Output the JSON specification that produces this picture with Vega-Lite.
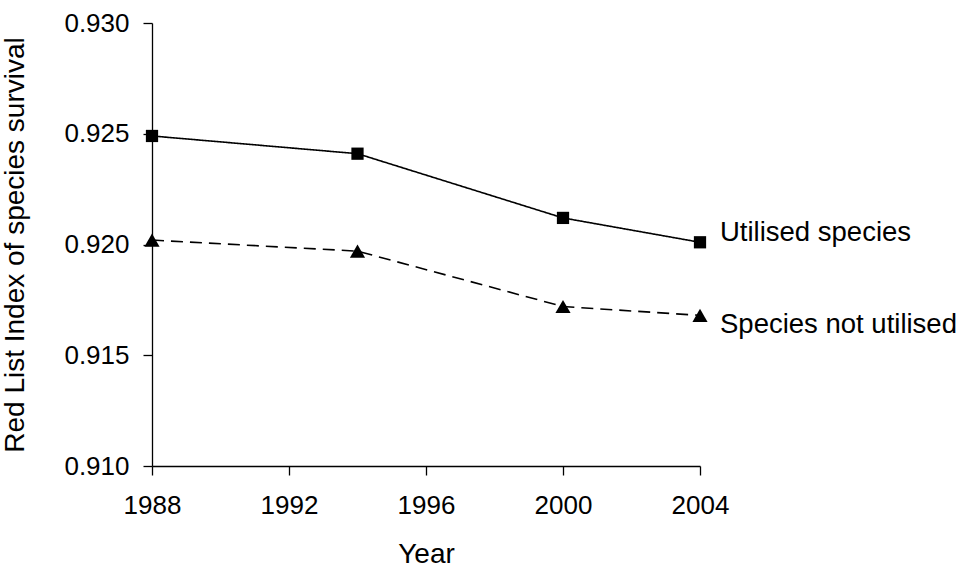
{
  "$schema": "https://vega.github.io/schema/vega-lite/v6.json",
  "autosize": "none",
  "width": 548,
  "height": 443,
  "padding": {"left": 152, "top": 23, "right": 269, "bottom": 104},
  "background": "white",
  "config": {
    "view": {"stroke": null},
    "font": "Liberation Sans",
    "axis": {"grid": false, "domainColor": "black", "tickColor": "black", "labelColor": "black", "titleColor": "black", "labelFont": "Liberation Sans", "titleFont": "Liberation Sans", "labelFontSize": 26, "titleFontSize": 28, "titleFontWeight": "normal", "tickSize": 9, "domainWidth": 1.3, "tickWidth": 1.3}
  },
  "data": {
    "values": [
      {"year": 1988, "rli": 0.9249, "series": "Utilised species"},
      {"year": 1994, "rli": 0.9241, "series": "Utilised species"},
      {"year": 2000, "rli": 0.9212, "series": "Utilised species"},
      {"year": 2004, "rli": 0.9201, "series": "Utilised species"},
      {"year": 1988, "rli": 0.9202, "series": "Species not utilised"},
      {"year": 1994, "rli": 0.9197, "series": "Species not utilised"},
      {"year": 2000, "rli": 0.9172, "series": "Species not utilised"},
      {"year": 2004, "rli": 0.9168, "series": "Species not utilised"}
    ]
  },
  "encoding": {
    "x": {"field": "year", "type": "quantitative", "scale": {"domain": [1988, 2004], "nice": false, "zero": false},
      "axis": {"title": "Year", "values": [1988, 1992, 1996, 2000, 2004], "format": "d", "labelPadding": 17, "titlePadding": 22, "labelFlush": false}},
    "y": {"field": "rli", "type": "quantitative", "scale": {"domain": [0.91, 0.93], "nice": false, "zero": false},
      "axis": {"title": "Red List Index of species survival", "values": [0.91, 0.915, 0.92, 0.925, 0.93], "format": ".3f", "labelPadding": 14, "titlePadding": 34}}
  },
  "layer": [
    {
      "mark": {"type": "line", "color": "black", "strokeWidth": 1.6},
      "encoding": {
        "detail": {"field": "series"},
        "strokeDash": {"field": "series", "type": "nominal", "scale": {"domain": ["Utilised species", "Species not utilised"], "range": [[1, 0], [12, 7]]}, "legend": null}
      }
    },
    {
      "mark": {"type": "point", "filled": true, "color": "black", "opacity": 1},
      "encoding": {
        "shape": {"field": "series", "type": "nominal", "scale": {"domain": ["Utilised species", "Species not utilised"], "range": ["square", "triangle-up"]}, "legend": null},
        "size": {"field": "series", "type": "nominal", "scale": {"domain": ["Utilised species", "Species not utilised"], "range": [150, 230]}, "legend": null}
      }
    },
    {
      "transform": [{"filter": "datum.series == 'Utilised species' && datum.year == 2004"}],
      "mark": {"type": "text", "align": "left", "baseline": "middle", "dx": 20, "dy": -9, "fontSize": 27.5, "color": "black"},
      "encoding": {"text": {"field": "series"}}
    },
    {
      "transform": [{"filter": "datum.series == 'Species not utilised' && datum.year == 2004"}],
      "mark": {"type": "text", "align": "left", "baseline": "middle", "dx": 20, "dy": 10, "fontSize": 27.5, "color": "black"},
      "encoding": {"text": {"field": "series"}}
    }
  ]
}
